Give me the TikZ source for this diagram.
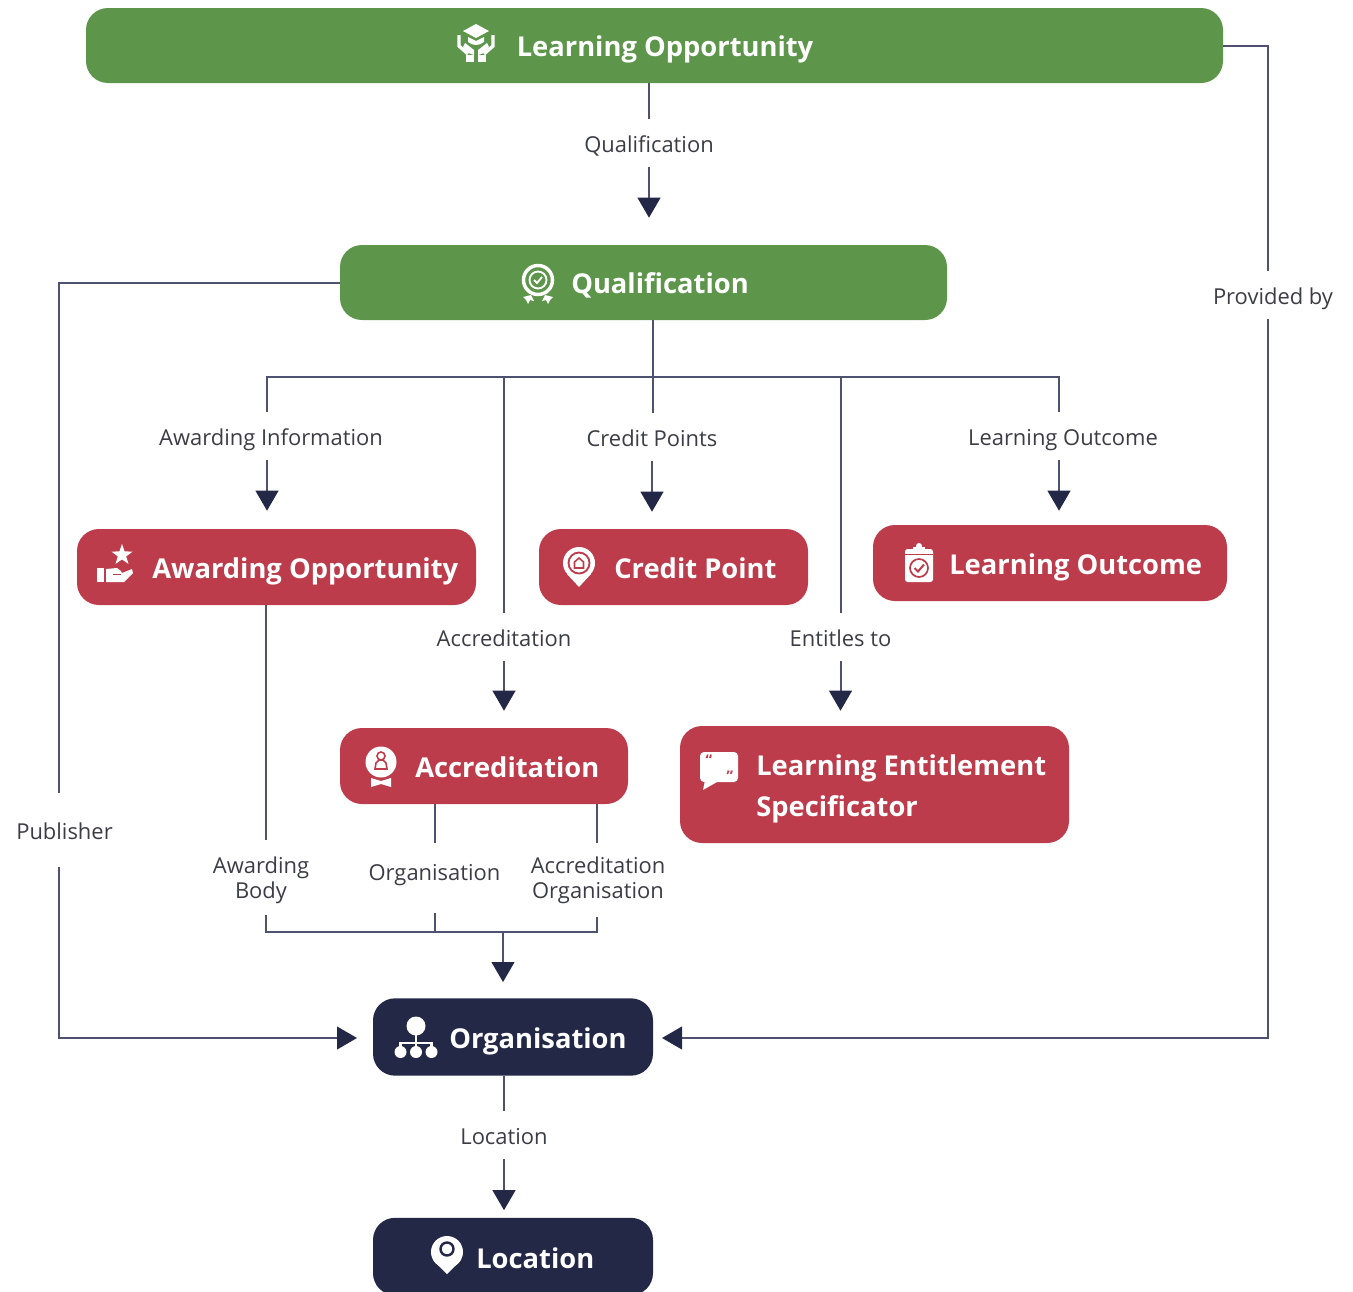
\documentclass[tikz,border=0pt]{standalone}
\usepackage{fontspec}
\setmainfont{Open Sans}
\usetikzlibrary{arrows.meta}
\definecolor{cgreen}{RGB}{93,149,75}
\definecolor{cred}{RGB}{188,60,75}
\definecolor{cnavy}{RGB}{35,40,70}
\definecolor{cline}{RGB}{78,82,112}
\definecolor{clabel}{RGB}{60,60,70}
\tikzset{
 x=0.75pt,y=-0.75pt,
 boxbase/.style={rounded corners=16.5pt,inner sep=0pt,minimum width=#1},
 gbox/.style={boxbase=#1,fill=cgreen,minimum height=56.25pt},
 rbox/.style={boxbase=#1,fill=cred,minimum height=57pt},
 nbox/.style={boxbase=#1,fill=cnavy,minimum height=58pt},
 title/.style={text=white,font=\fontsize{20.5pt}{29pt}\selectfont\bfseries,anchor=base west,inner sep=0pt},
 labbase/.style={text=clabel,font=\fontsize{16.45pt}{18.75pt}\selectfont,align=center,inner sep=0pt},
 lab/.style={labbase,text height=15pt,text depth=1.1pt,minimum height=36pt},
 conn/.style={draw=cline,line width=1.5pt},
 arrowconn/.style={conn,-{Triangle[length=15pt,width=17pt,fill=cnavy,color=cnavy]},shorten >=#1},
 ic/.style={fill=white,draw=none},
 ils/.style={draw=white,line width=2pt,fill=none},
}
\begin{document}
\begin{tikzpicture}
\useasboundingbox (0,0) rectangle (1353,1292);
\clip (0,0) rectangle (1353,1292);
% boxes
\node[gbox=852.75pt] (lo) at (654.5,45.5) {};
\node[gbox=455.25pt] (qu) at (643.5,282.5) {};
\node[rbox=299.25pt] (aw) at (276.5,567) {};
\node[rbox=201.75pt] (cp) at (673.5,567) {};
\node[rbox=265.5pt] (ou) at (1050,563) {};
\node[rbox=216pt] (ac) at (484,766) {};
\node[rbox=291.75pt,minimum height=87.75pt] (le) at (874.5,784.5) {};
\node[nbox=210pt] (or) at (513,1037) {};
\node[nbox=210pt] (ca) at (513,1256.5) {};
% titles
\node[title] (tlo) at (516.5,56) {Learning Opportunity};
\node[title] (tqu) at (571,293) {Qualification};
\node[title] (taw) at (152,578) {Awarding Opportunity};
\node[title] (tcp) at (614,578) {Credit Point};
\node[title] (tou) at (949,574) {Learning Outcome};
\node[title] (tac) at (415,777) {Accreditation};
\node[title] (tle) at (756,775) {Learning Entitlement};
\node[title] (tls) at (756,816) {Specificator};
\node[title] (tor) at (449,1048) {Organisation};
\node[title] (tca) at (476,1268) {Location};
% labels
\node[lab] (lq) at (649,143) {Qualification};
\node[lab] (lai) at (271,436) {Awarding Information};
\node[lab] (lcp) at (652,437) {Credit Points};
\node[lab] (llo) at (1063,436) {Learning Outcome};
\node[lab] (lac) at (504,637) {Accreditation};
\node[lab] (lent) at (840.5,637) {Entitles to};
\node[lab] (lpr) at (1273,295) {Provided by};
\node[lab,minimum height=55.5pt] (lpu) at (64.5,830) {Publisher};
\node[labbase,text depth=0pt,minimum height=56.25pt] (lab1) at (261,877.5) {Awarding\\Body};
\node[lab,text depth=10.5pt,text height=14.8pt,minimum height=52.5pt] (lorg) at (434.5,878) {Organisation};
\node[labbase,minimum height=55.5pt] (lacc) at (598,880) {Accreditation\\Organisation};
\node[lab] (lloc) at (504,1135) {Location};
% junctions
\coordinate (h0) at (652.5,377);
\coordinate (jai) at (267,377);
\coordinate (jac) at (504,377);
\coordinate (jen) at (840.5,377);
\coordinate (jlo) at (1059,377);
\coordinate (pr) at (1267.5,45.5);
\coordinate (pu) at (58.5,282.5);
\coordinate (bj) at (503,932);
\coordinate (bl) at (266,932);
\coordinate (bm) at (434.5,932);
\coordinate (br) at (597,932);
\coordinate (ol) at (58.5,1038);
\coordinate (orr) at (1267.5,1038);
\coordinate (xorl) at (357,1038);
\coordinate (xorr) at (662,1038);
% connectors
\draw[conn] (lq.north |- lo.south) -- (lq.north);
\draw[arrowconn=20.25pt] (lq.south) -- (lq.south |- qu.north);
\draw[conn] (h0 |- qu.south) -- (h0 |- lcp.north);
\draw[conn] (jai |- lai.north) -- (jai) -- (jlo) -- (jlo |- llo.north);
\draw[arrowconn=13.5pt] (jai |- lai.south) -- (jai |- aw.north);
\draw[arrowconn=12.75pt] (lcp.south) -- (lcp.south |- cp.north);
\draw[arrowconn=10.5pt] (jlo |- llo.south) -- (jlo |- ou.north);
\draw[conn] (jac) -- (lac.north);
\draw[arrowconn=12.75pt] (lac.south) -- (lac.south |- ac.north);
\draw[conn] (jen) -- (lent.north);
\draw[arrowconn=11.25pt] (lent.south) -- (lent.south |- le.north);
\draw[conn] (lo.east) -- (pr) -- (pr |- lpr.north);
\draw[arrowconn=0pt] (orr |- lpr.south) -- (orr) -- (xorr);
\draw[conn] (qu.west) -- (pu) -- (pu |- lpu.north);
\draw[arrowconn=0pt] (ol |- lpu.south) -- (ol) -- (xorl);
\draw[conn] (bl |- aw.south) -- (bl |- lab1.north);
\draw[conn] (bl |- lab1.south) -- (bl) -- (br) -- (br |- lacc.south);
\draw[conn] (br |- ac.south) -- (br |- lacc.north);
\draw[conn] (bm |- ac.south) -- (bm |- lorg.north);
\draw[conn] (bm |- lorg.south) -- (bm);
\draw[arrowconn=12pt] (bj) -- (bj |- or.north);
\draw[conn] (lloc.north |- or.south) -- (lloc.north);
\draw[arrowconn=5.5pt] (lloc.south) -- (lloc.south |- ca.north);
% icon: cap and hands
\begin{scope}[shift={(476,44)}]
 \fill[ic] (-13,-13) -- (0,-20) -- (13,-13) -- (0,-6) -- cycle;
 \fill[ic] (-8,-7) -- (0,-3) -- (8,-7) -- (8,-2) .. controls (3,2) and (-3,2) .. (-8,-2) -- cycle;
 \draw[ils,line width=2.5pt] (-17,-9) -- (-17,2) -- (-8,10);
 \draw[ils,line width=2.5pt] (17,-9) -- (17,2) -- (8,10);
 \fill[ic] (-10,11) rectangle (-2,18);
 \fill[ic] (2,11) rectangle (10,18);
 \fill[ic] (-2,11) -- (-2,6) -- (-11,-1) -- (-13,3) -- (-8,9) -- cycle;
 \fill[ic] (2,11) -- (2,6) -- (11,-1) -- (13,3) -- (8,9) -- cycle;
\end{scope}
% icon: medal
\begin{scope}[shift={(538,280)}]
 \draw[draw=white,line width=2.6pt] (0,0) circle (14.5);
 \draw[draw=white,line width=1.4pt] (0,0) circle (8.5);
 \draw[draw=white,line width=1.4pt] (-4,0) -- (-1,3) -- (4,-3);
 \fill[ic] (-15,17) -- (-7,15) -- (-4,21) -- (-8,20) -- (-10,24) -- (-12,20) -- cycle;
 \fill[ic] (15,17) -- (7,15) -- (4,21) -- (8,20) -- (10,24) -- (12,20) -- cycle;
\end{scope}
% icon: hand and star
\begin{scope}[shift={(115,564)}]
 \fill[ic] (7,-20) -- (9.6,-12.6) -- (17.5,-12.4) -- (11.2,-7.6) -- (13.5,-0.1) -- (7,-4.6) -- (0.5,-0.1) -- (2.8,-7.6) -- (-3.5,-12.4) -- (4.4,-12.6) -- cycle;
 \fill[ic] (-18,4) rectangle (-11,18);
 \fill[ic] (-9,5) -- (2,4) -- (6,7) -- (7,9) -- (17,5) -- (18,9) -- (9,18) -- (-9,18) -- cycle;
 \draw[draw=cred,line width=1pt] (-2,10.5) -- (6,10.5);
\end{scope}
% icon: credit pin
\begin{scope}[shift={(579,563)}]
 \fill[ic] (-12,11) -- (0,24) -- (12,11) -- cycle;
 \fill[ic] (0,0) circle (16);
 \draw[draw=cred,line width=1.4pt] (0,0) circle (10.5);
 \draw[draw=cred,line width=1.2pt] (-4.5,5) -- (-4.5,-1) -- (0,-5) -- (4.5,-1) -- (4.5,5) -- cycle;
\end{scope}
% icon: clipboard
\begin{scope}[shift={(919,563)}]
 \fill[ic,rounded corners=2pt] (-14,-14) rectangle (14,19);
 \fill[ic] (-6,-16) rectangle (6,-9);
 \fill[ic] (0,-17) circle (3);
 \draw[draw=cred,line width=1.2pt] (-14,-8.5) -- (14,-8.5);
 \draw[draw=cred,line width=1.3pt] (0,5) circle (9);
 \draw[draw=cred,line width=1.5pt] (-4.5,5) -- (-1,8.5) -- (5,1.5);
\end{scope}
% icon: accreditation medal
\begin{scope}[shift={(381,762)}]
 \fill[ic] (0,0) circle (15.5);
 \draw[draw=cred,line width=1.2pt] (0,-6) circle (4);
 \draw[draw=cred,line width=1.2pt] (-6,7) -- (-5,1) -- (-2,-2) -- (2,-2) -- (5,1) -- (6,7) -- cycle;
 \fill[ic] (-10,16) -- (0,19) -- (10,16) -- (10,25) -- (0,22) -- (-10,25) -- cycle;
\end{scope}
% icon: speech bubble
\begin{scope}[shift={(719,767)}]
 \fill[ic,rounded corners=3pt] (-19,-15) rectangle (19,15);
 \fill[ic] (-14,13) -- (-16,23) -- (-2,15) -- cycle;
 \node[text=cred,font=\fontsize{11pt}{11pt}\selectfont\bfseries,inner sep=0pt] (q1) at (-10,-7) {“};
 \node[text=cred,font=\fontsize{11pt}{11pt}\selectfont\bfseries,inner sep=0pt] (q2) at (11,9) {”};
\end{scope}
% icon: organisation tree
\begin{scope}[shift={(416,1038)}]
 \fill[ic] (0,-12) circle (9.5);
 \draw[draw=white,line width=1.8pt] (0,-5) -- (0,14);
 \draw[draw=white,line width=1.8pt] (-15.5,14) -- (-15.5,5) -- (15.5,5) -- (15.5,14);
 \fill[ic] (-15.5,14) circle (6);
 \fill[ic] (0,14) circle (6);
 \fill[ic] (15.5,14) circle (6);
\end{scope}
% icon: location pin
\begin{scope}[shift={(447,1252)}]
 \fill[ic] (-13,9) -- (0,22) -- (13,9) -- cycle;
 \fill[ic] (0,0) circle (16);
 \draw[draw=cnavy,line width=1.8pt] (0,-3) circle (6.5);
\end{scope}
\end{tikzpicture}
\end{document}
